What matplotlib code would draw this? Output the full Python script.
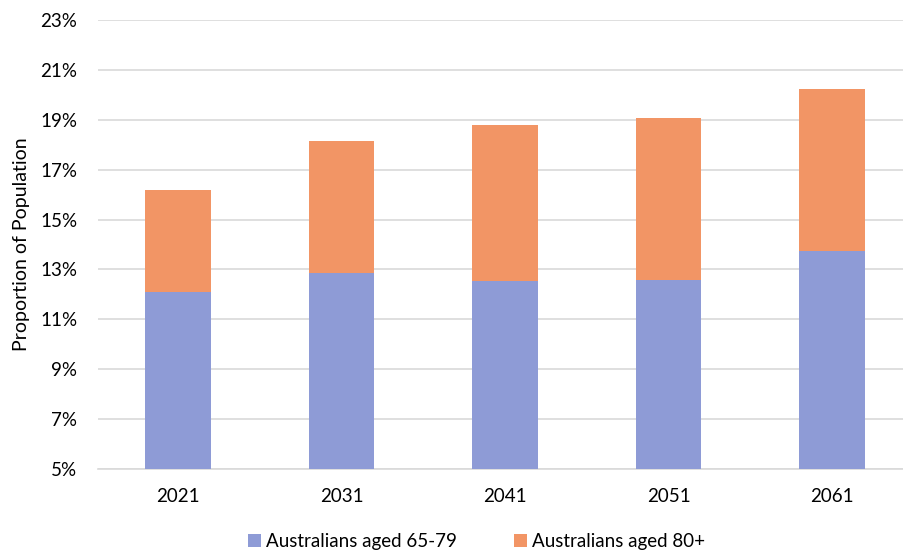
import numpy as np
import matplotlib.pyplot as plt
from matplotlib.ticker import FuncFormatter

plt.rcParams['font.family'] = ['Lato', 'DejaVu Sans']

# Data (percent of population)
years = ['2021', '2031', '2041', '2051', '2061']
aged_65_79 = [12.1, 12.87, 12.53, 12.56, 13.75]
aged_80_plus = [4.1, 5.26, 6.28, 6.53, 6.49]

blue = '#8E9BD6'
orange = '#F29565'

fig = plt.figure(figsize=(9.04, 5.52), dpi=100)
ax = fig.add_axes([98 / 904, 1 - 469 / 552, 1 - 98 / 904, (469 - 20) / 552])

x = np.arange(len(years))
ax.bar(x, aged_65_79, width=0.4, color=blue, label='Australians aged 65-79', zorder=3)
ax.bar(x, aged_80_plus, width=0.4, bottom=aged_65_79, color=orange,
       label='Australians aged 80+', zorder=3)

ax.set_ylim(5, 23)
ax.set_yticks(np.arange(5, 24, 2))
ax.yaxis.set_major_formatter(FuncFormatter(lambda v, p: f'{v:.0f}%'))
ax.set_xlim(-0.49, 4.44)
ax.set_xticks(x)
ax.set_xticklabels(years)

ax.grid(axis='y', color='#D9D9D9', linewidth=1.2, zorder=0)
for side in ['top', 'right', 'left']:
    ax.spines[side].set_visible(False)
ax.spines['bottom'].set_color('#D9D9D9')
ax.spines['bottom'].set_linewidth(1.2)
ax.tick_params(axis='both', length=0, labelsize=13.5, colors='#000000')
ax.tick_params(axis='x', pad=14)
ax.tick_params(axis='y', pad=15)
ax.set_ylabel('Proportion of Population', fontsize=14, labelpad=7)

ax.legend(loc='upper center', bbox_to_anchor=(0.5 - 49 / 806 / 2, -0.105), ncol=2,
          frameon=False, fontsize=13.5, handlelength=0.7, handleheight=0.7,
          handletextpad=0.3, columnspacing=3.0)

plt.savefig('out.png', dpi=100)
